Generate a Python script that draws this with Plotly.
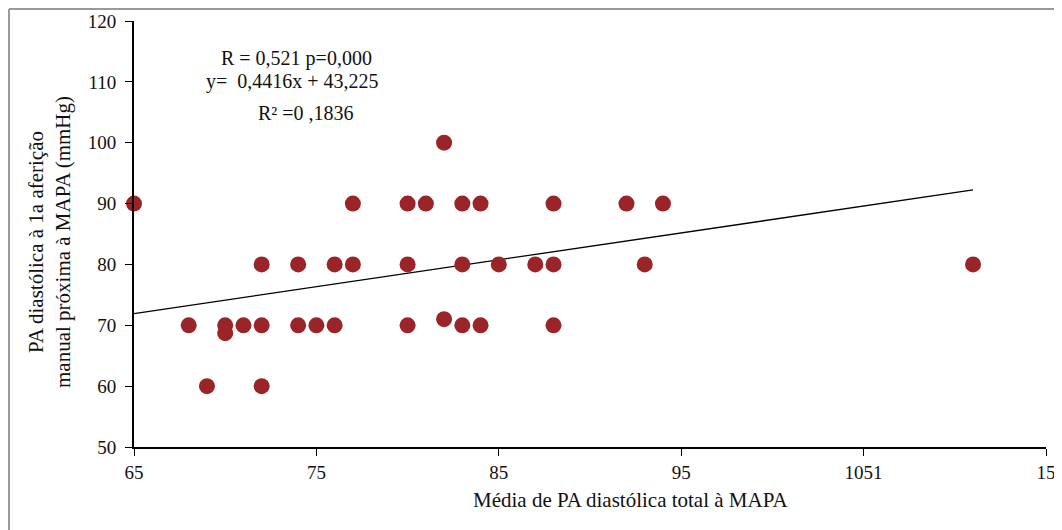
import plotly.graph_objects as go

# Data
media_pa = [65, 68, 69, 70, 70, 71, 72, 72, 72, 74, 74, 75, 76, 76, 77, 77,
            80, 80, 80, 81, 82, 82, 83, 83, 83, 84, 84, 85, 87, 88, 88, 88,
            92, 93, 94, 111]
pa_manual = [90, 70, 60, 70, 68.7, 70, 80, 70, 60, 80, 70, 70, 80, 70, 90, 80,
             90, 80, 70, 90, 100, 71, 90, 80, 70, 90, 70, 80, 80, 90, 80, 70,
             90, 80, 90, 80]
slope = 0.4416
intercept = 43.225
x_tickvals = [65, 75, 85, 95, 105, 115]
x_ticktext = ["65", "75", "85", "95", "1051", "15"]
y_tickvals = [50, 60, 70, 80, 90, 100, 110, 120]

W, H = 1062, 530
OFF = 8  # page body margin
# plot area in page pixel coordinates
PX0, PX1, PY0, PY1 = 134, 1046, 21, 447
PW, PH = PX1 - PX0, PY1 - PY0

def px(x):
    return (x - PX0) / PW

def py(y):
    return (PY1 - y) / PH

FONT = "Liberation Serif"
DOT = "#9b2428"

fig = go.Figure()

x_line = [min(media_pa), max(media_pa)]
fig.add_trace(go.Scatter(
    x=x_line, y=[slope * v + intercept for v in x_line],
    mode="lines", line=dict(color="black", width=1.3),
    showlegend=False, hoverinfo="skip"))

fig.add_trace(go.Scatter(
    x=media_pa, y=pa_manual, mode="markers",
    marker=dict(color=DOT, size=16, line=dict(width=0)),
    showlegend=False, cliponaxis=False))

fig.update_layout(
    width=W, height=H,
    margin=dict(l=PX0 - OFF, r=W - (PX1 - OFF), t=PY0 - OFF, b=H - (PY1 - OFF),
                autoexpand=False),
    paper_bgcolor="white", plot_bgcolor="white",
    font=dict(family=FONT, size=19, color="#111"),
    xaxis=dict(range=[65, 115], tickvals=x_tickvals, ticktext=x_ticktext,
               showgrid=False, zeroline=False, showline=True, automargin=False,
               linecolor="black", linewidth=2, ticks="outside",
               ticklen=7, tickcolor="black", tickwidth=1,
               tickfont=dict(family=FONT, size=19)),
    yaxis=dict(range=[50, 120], tickvals=y_tickvals,
               showgrid=False, zeroline=False, showline=True, automargin=False,
               linecolor="black", linewidth=2, ticks="outside",
               ticklen=7, tickcolor="black", tickwidth=1,
               ticklabelstandoff=5,
               tickfont=dict(family=FONT, size=19)),
)

# Axis titles
fig.add_annotation(text="Média de PA diastólica total à MAPA",
                   xref="paper", yref="paper", x=px(630), y=py(500),
                   showarrow=False, xanchor="center", yanchor="middle",
                   font=dict(family=FONT, size=21, color="#111"))
fig.add_annotation(text="PA diastólica à 1a aferição<br>manual próxima à MAPA (mmHg)",
                   xref="paper", yref="paper", x=px(49), y=py(242),
                   showarrow=False, xanchor="center", yanchor="middle",
                   textangle=-90,
                   font=dict(family=FONT, size=21, color="#111"))

ann = [
    ("R = 0,521 p=0,000", 296, 58),
    ("y=  0,4416x + 43,225", 292, 82),
    ("R² =0 ,1836", 306, 113),
]
for text, ax, ay in ann:
    fig.add_annotation(text=text, xref="paper", yref="paper",
                       x=px(ax), y=py(ay), showarrow=False,
                       xanchor="center", yanchor="middle",
                       font=dict(family=FONT, size=20, color="#111"))

# Outer frame (top and left edges visible)
fig.add_shape(type="line", xref="paper", yref="paper",
              x0=px(9), x1=px(W + 20), y0=py(9), y1=py(9),
              line=dict(color="#999", width=2))
fig.add_shape(type="line", xref="paper", yref="paper",
              x0=px(9), x1=px(9), y0=py(9), y1=py(H + 20),
              line=dict(color="#999", width=2))

fig.write_html("out.html")
